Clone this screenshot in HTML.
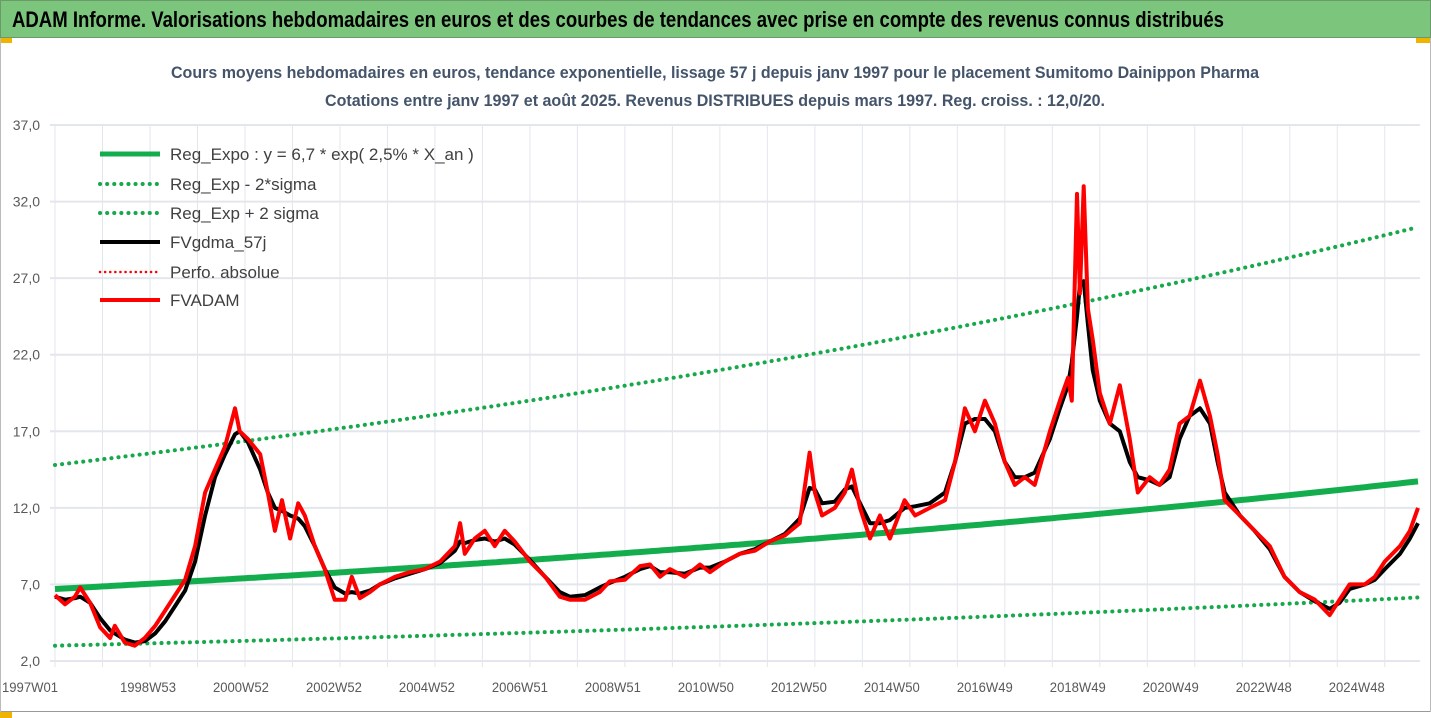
<!DOCTYPE html>
<html><head><meta charset="utf-8"><style>
body{margin:0;background:#fff;}
svg{display:block;font-family:"Liberation Sans",sans-serif;}
</style></head><body>
<svg id="chart" width="1431" height="718" viewBox="0 0 1431 718">
<rect x="0" y="0" width="1431" height="718" fill="#fff"/>
<rect x="0.5" y="0.5" width="1430" height="37" fill="#7cc57d" stroke="#6a9a6a"/>
<text x="12" y="27" font-size="22" font-weight="bold" fill="#000" textLength="1212" lengthAdjust="spacingAndGlyphs">ADAM Informe. Valorisations hebdomadaires en euros et des courbes de tendances avec prise en compte des revenus connus distribués</text>
<rect x="0" y="38" width="12" height="5" fill="#f0b400"/>
<rect x="1416" y="38" width="15" height="5" fill="#f0b400"/>
<rect x="0" y="712" width="12" height="6" fill="#f0b400"/>
<line x1="0" y1="711.5" x2="1431" y2="711.5" stroke="#999"/>
<line x1="0.5" y1="38" x2="0.5" y2="712" stroke="#bbb"/>
<line x1="1430.5" y1="38" x2="1430.5" y2="712" stroke="#bbb"/>
<text x="715" y="78" font-size="17" font-weight="bold" fill="#44546a" text-anchor="middle" textLength="1088" lengthAdjust="spacingAndGlyphs">Cours moyens hebdomadaires en euros, tendance exponentielle, lissage 57 j depuis janv 1997 pour le placement Sumitomo Dainippon Pharma</text>
<text x="715" y="106" font-size="17" font-weight="bold" fill="#44546a" text-anchor="middle" textLength="780" lengthAdjust="spacingAndGlyphs">Cotations entre janv 1997 et août 2025. Revenus DISTRIBUES depuis mars 1997. Reg. croiss. : 12,0/20.</text>
<g id="grid"></g>
<g id="series"></g>
<g id="axes"></g>
<g id="legend"></g>
</svg>
<script>
// ---- data ----
const yTicks = [2, 7, 12, 17, 22, 27, 32, 37];
const xLabels = ["1997W01","1998W53","2000W52","2002W52","2004W52","2006W51","2008W51","2010W50","2012W50","2014W50","2016W49","2018W49","2020W49","2022W48","2024W48"];
const xLabelYears = [0, 2, 4, 6, 8, 10, 12, 14, 16, 18, 20, 22, 24, 26, 28];
const yearsSince1997 = [0,.21,.42,.53,.74,.95,1.16,1.26,1.47,1.68,1.89,2.11,2.32,2.53,2.74,2.95,3.16,3.37,3.58,3.79,3.89,4.06,4.32,4.48,4.63,4.78,4.95,5.12,5.26,5.47,5.68,5.89,6.11,6.25,6.42,6.63,6.84,7.16,7.47,7.79,8.11,8.42,8.53,8.63,8.84,9.05,9.26,9.47,9.68,10.0,10.32,10.63,10.84,11.16,11.47,11.68,12.0,12.32,12.53,12.74,12.95,13.26,13.58,13.79,14.11,14.42,14.74,15.05,15.37,15.68,15.89,16.0,16.15,16.42,16.63,16.78,16.95,17.16,17.37,17.58,17.89,18.11,18.42,18.74,18.95,19.16,19.37,19.58,19.79,20.0,20.21,20.42,20.63,20.95,21.16,21.33,21.41,21.52,21.58,21.66,21.75,21.85,22.0,22.21,22.42,22.63,22.8,23.05,23.26,23.47,23.68,23.89,24.11,24.32,24.48,24.63,24.95,25.26,25.58,25.89,26.21,26.53,26.84,27.05,27.26,27.58,27.79,28.0,28.32,28.53,28.7];
const fvadam = [6.3,5.7,6.2,6.8,5.8,4.2,3.5,4.3,3.2,3.0,3.5,4.3,5.3,6.3,7.3,9.5,13.0,14.5,16.0,18.5,17.0,16.5,15.5,13.0,10.5,12.5,10.0,12.3,11.5,9.5,8.0,6.0,6.0,7.5,6.1,6.5,7.0,7.5,7.8,8.0,8.5,9.5,11.0,9.0,10.0,10.5,9.5,10.5,9.8,8.5,7.5,6.2,6.0,6.0,6.5,7.2,7.3,8.2,8.3,7.5,8.0,7.5,8.3,7.8,8.5,9.0,9.2,9.8,10.2,11.0,15.6,13.0,11.5,12.0,13.0,14.5,12.0,10.0,11.5,10.0,12.5,11.5,12.0,12.5,15.0,18.5,17.0,19.0,17.5,15.0,13.5,14.0,13.5,17.0,19.0,20.5,19.0,32.5,26.0,33.0,25.0,23.0,19.5,17.5,20.0,16.5,13.0,14.0,13.5,14.5,17.5,18.0,20.3,18.0,15.5,12.5,11.5,10.5,9.5,7.5,6.5,6.0,5.0,6.0,7.0,7.0,7.5,8.5,9.5,10.5,12.0];
const fvgdma = [6.2,6.0,6.1,6.2,5.8,4.8,4.0,3.8,3.4,3.2,3.3,3.8,4.6,5.6,6.6,8.5,11.5,14,15.5,16.8,17,16.3,14.5,13,12,11.8,11.5,11.3,10.8,9.5,8,6.8,6.4,6.5,6.4,6.6,7.0,7.4,7.7,8.0,8.4,9.2,9.8,9.7,9.9,10.0,9.8,10.0,9.6,8.6,7.5,6.5,6.2,6.3,6.8,7.1,7.5,8.0,8.2,7.8,7.8,7.7,8.1,8.1,8.5,9.0,9.3,9.8,10.3,11.3,13.3,13.2,12.3,12.4,13.2,13.4,12.3,11.0,11.0,11.2,12.0,12.1,12.3,13.0,15.0,17.5,17.8,17.8,17.0,15.0,14.0,14.0,14.3,16.5,18.5,20,21.5,24.5,26.5,26.8,24,21,19,17.5,17.0,15.0,14.0,13.8,13.5,14.0,16.5,18.0,18.5,17.5,15.0,13.0,11.5,10.5,9.3,7.5,6.5,5.9,5.4,5.8,6.7,7.0,7.3,8.0,9.0,10.0,11.0];
const trendBase = [6.7];
const trendLow = [3.0];
const trendHigh = [14.8];
const trendRate = [0.025];
const trendYears = [0, 28.7];

// ---- axes ----
const NS = "http://www.w3.org/2000/svg";
const X0 = 55, X1 = 1418, Y0 = 661, Y1 = 125;
const T_MAX = 28.7, V_MIN = 2, V_MAX = 37;
function xs(t){ return X0 + (t / T_MAX) * (X1 - X0); }
function ys(v){ return Y0 - (v - V_MIN) / (V_MAX - V_MIN) * (Y0 - Y1); }
function mk(tag, attrs, parent){ const e = document.createElementNS(NS, tag); for (const k in attrs) e.setAttribute(k, attrs[k]); parent.appendChild(e); return e; }

const grid = document.getElementById("grid");
const axes = document.getElementById("axes");
const series = document.getElementById("series");
const legend = document.getElementById("legend");

for (let y = 0; y <= 29; y++) {
  const l = mk("line", {x1: xs(y), x2: xs(y), y1: Y1, y2: Y0 + 6, stroke: "#e3e6ec", "stroke-width": 1}, grid);
  
  
}
yTicks.forEach(v => {
  const l = mk("line", {x1: X0 - 5, x2: 1420, y1: ys(v), y2: ys(v), stroke: "#e3e6ec", "stroke-width": 2}, grid);
  
  
  const t = mk("text", {x: 40, y: ys(v) + 5, "font-size": 14, fill: "#595959", "text-anchor": "end"}, axes);
  t.textContent = v.toFixed(1).replace(".", ",");
  
  
});
xLabels.forEach((lab, i) => {
  let cx = xs(xLabelYears[i]) - 2 * i;
  if (i === 0) cx = 30;
  const t = mk("text", {x: cx, y: 692, "font-size": 14, fill: "#595959", "text-anchor": "middle", textLength: 56, lengthAdjust: "spacingAndGlyphs"}, axes);
  t.textContent = lab;
  
  
});

// ---- series ----
function trendPts(base){
  const pts = [];
  for (let t = trendYears[0]; t <= trendYears[1] + 1e-9; t += 0.1) pts.push(xs(t).toFixed(1) + "," + ys(base * Math.exp(trendRate[0] * t)).toFixed(1));
  return pts.join(" ");
}
const lo = mk("polyline", {points: trendPts(trendLow[0]), fill: "none", stroke: "#18a84c", "stroke-width": 4, "stroke-dasharray": "0.1 7", "stroke-linecap": "round"}, series);


const hi = mk("polyline", {points: trendPts(trendHigh[0]), fill: "none", stroke: "#18a84c", "stroke-width": 4, "stroke-dasharray": "0.1 7", "stroke-linecap": "round"}, series);


const tr = mk("polyline", {points: trendPts(trendBase[0]), fill: "none", stroke: "#13ad4e", "stroke-width": 6}, series);


const blk = mk("polyline", {points: yearsSince1997.map((t, i) => xs(t).toFixed(1) + "," + ys(fvgdma[i]).toFixed(1)).join(" "), fill: "none", stroke: "#000", "stroke-width": 4, "stroke-linejoin": "round"}, series);


const red = mk("polyline", {points: yearsSince1997.map((t, i) => xs(t).toFixed(1) + "," + ys(fvadam[i]).toFixed(1)).join(" "), fill: "none", stroke: "#ff0000", "stroke-width": 4, "stroke-linejoin": "round"}, series);



// ---- legend ----
const legendItems = [
  {label: "Reg_Expo : y = 6,7 * exp( 2,5% *  X_an )", color: "#13ad4e", w: 5, dash: null},
  {label: "Reg_Exp - 2*sigma", color: "#18a84c", w: 4, dash: "0.1 7"},
  {label: "Reg_Exp + 2 sigma", color: "#18a84c", w: 4, dash: "0.1 7"},
  {label: "FVgdma_57j", color: "#000", w: 4, dash: null},
  {label: "Perfo. absolue", color: "#ff0000", w: 2.5, dash: "0.1 5"},
  {label: "FVADAM", color: "#ff0000", w: 4, dash: null}
];
const legendY = [154, 184, 213, 242, 272, 300];
legendItems.forEach((it, i) => {
  const g = mk("g", {}, legend);
  
  
  const a = {x1: 100, x2: 160, y1: legendY[i], y2: legendY[i], stroke: it.color, "stroke-width": it.w, "stroke-linecap": it.dash ? "round" : "butt"};
  if (it.dash) a["stroke-dasharray"] = it.dash;
  const l = mk("line", a, g);
  
  
  const t = mk("text", {x: 170, y: legendY[i] + 6, "font-size": 17, fill: "#404040"}, g);
  t.textContent = it.label;
  
  
});
</script>
</body></html>
